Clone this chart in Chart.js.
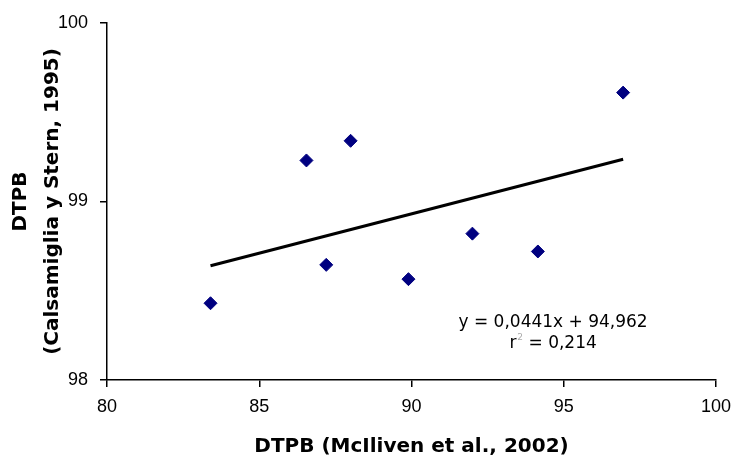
<!DOCTYPE html>
<html>
<head>
<meta charset="utf-8">
<script src="https://cdn.jsdelivr.net/npm/chart.js@4/dist/chart.umd.min.js"></script>
<style>
  html, body { margin: 0; padding: 0; background: #fff; }
  #wrap { width: 732px; height: 457px; }
</style>
</head>
<body>
<div id="wrap"><canvas id="scatterChart" width="732" height="457"></canvas></div>
<script>
// ----------- DATA -----------
const xValues = [83.4, 86.55, 88.0, 96.95, 92.0, 87.2, 89.9, 94.15];
const yValues = [98.43, 99.23, 99.34, 99.61, 98.82, 98.645, 98.565, 98.72];
const trendX = [83.4, 96.95];
const trendY = [98.64, 99.237];
const xTicks = [80, 85, 90, 95, 100];
const yTicks = [98, 99, 100];
const equationText = "y = 0,0441x + 94,962";
const r2Value = " = 0,214";

const TICK_FONT = "'Liberation Sans', Arial, sans-serif";
const TEXT_FONT = "'DejaVu Sans', sans-serif";

// ----------- EQUATION LABEL -----------
const equationPlugin = {
  id: 'equationLabel',
  afterDatasetsDraw(chart) {
    const ctx = chart.ctx;
    const xs = chart.scales.x, ys = chart.scales.y;
    const cx = xs.getPixelForValue(94.65);
    ctx.save();
    ctx.fillStyle = '#000';
    ctx.textBaseline = 'middle';
    ctx.font = '17px ' + TEXT_FONT;
    ctx.textAlign = 'center';
    ctx.fillText(equationText, cx, ys.getPixelForValue(98.32));

    // r² line: "r" + small grey superscript + rest
    const y2 = ys.getPixelForValue(98.205);
    const wR = ctx.measureText('r').width;
    const wRest = ctx.measureText(r2Value).width;
    ctx.font = '9px ' + TEXT_FONT;
    const wSup = ctx.measureText('2').width + 1;
    const total = wR + wSup + wRest;
    const x0 = cx - total / 2;
    ctx.textAlign = 'left';
    ctx.font = '17px ' + TEXT_FONT;
    ctx.fillText('r', x0, y2);
    ctx.font = '9px ' + TEXT_FONT;
    ctx.fillStyle = '#aaa';
    ctx.fillText('2', x0 + wR + 1, y2 - 6);
    ctx.fillStyle = '#000';
    ctx.font = '17px ' + TEXT_FONT;
    ctx.fillText(r2Value, x0 + wR + wSup, y2);
    ctx.restore();
  }
};

// ----------- CHART SETUP -----------
const ctx = document.getElementById('scatterChart').getContext('2d');
const chart = new Chart(ctx, {
  type: 'scatter',
  data: {
    datasets: [
      {
        label: 'DTPB',
        data: xValues.map((x, i) => ({ x: x, y: yValues[i] })),
        pointStyle: 'rectRot',
        pointRadius: 6.5,
        backgroundColor: '#000080',
        borderColor: '#000080',
        borderWidth: 1
      },
      {
        label: 'Lineal',
        type: 'line',
        data: trendX.map((x, i) => ({ x: x, y: trendY[i] })),
        borderColor: '#000',
        borderWidth: 3,
        pointRadius: 0,
        fill: false
      }
    ]
  },
  options: {
    responsive: false,
    animation: false,
    layout: { padding: { top: 23, right: 16, left: 0, bottom: 0 } },
    plugins: {
      legend: { display: false },
      tooltip: { enabled: false }
    },
    scales: {
      x: {
        type: 'linear',
        min: 80,
        max: 100,
        afterBuildTicks: (s) => { s.ticks = xTicks.map(v => ({ value: v })); },
        afterFit: (s) => { s.height = 77; s.paddingLeft = 0; s.paddingRight = 0; },
        grid: { drawOnChartArea: false, drawTicks: true, tickLength: 7, color: '#000', lineWidth: 1.5 },
        border: { display: true, color: '#000', width: 1.5 },
        ticks: { color: '#000', padding: 9, font: { family: TICK_FONT, size: 18 } },
        title: {
          display: true,
          text: 'DTPB (McIliven et al., 2002)',
          color: '#000',
          padding: { top: 0, bottom: 0 },
          font: { family: TEXT_FONT, size: 20, weight: 'bold', lineHeight: 1.0 }
        }
      },
      y: {
        type: 'linear',
        min: 98,
        max: 100,
        afterBuildTicks: (s) => { s.ticks = yTicks.map(v => ({ value: v })); },
        afterFit: (s) => { s.width = 107; },
        grid: { drawOnChartArea: false, drawTicks: true, tickLength: 7, color: '#000', lineWidth: 1.5 },
        border: { display: true, color: '#000', width: 1.5 },
        ticks: { color: '#000', padding: 12, font: { family: TICK_FONT, size: 18 } },
        title: {
          display: true,
          text: ['DTPB', '(Calsamiglia y Stern, 1995)'],
          color: '#000',
          padding: { top: 5, bottom: 0 },
          font: { family: TEXT_FONT, size: 20, weight: 'bold', lineHeight: 1.6 }
        }
      }
    }
  },
  plugins: [equationPlugin]
});
</script>
</body>
</html>
